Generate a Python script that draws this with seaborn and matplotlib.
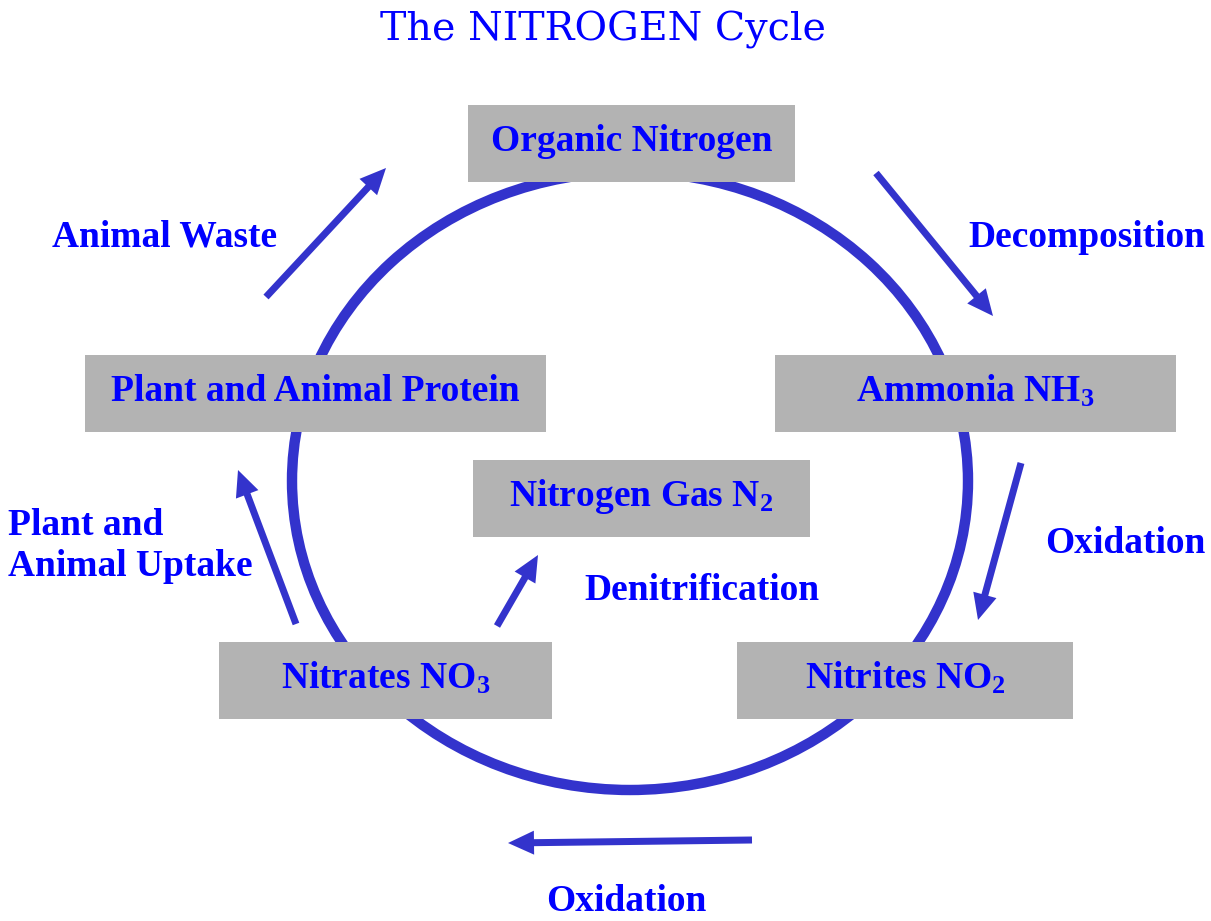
import numpy as np
import seaborn as sns
import matplotlib.pyplot as plt
from matplotlib.patches import Ellipse, Rectangle, FancyArrow

sns.set_theme(style="white")
plt.rcParams["font.family"] = ["Liberation Serif", "DejaVu Serif"]
plt.rcParams["mathtext.default"] = "regular"

TEXT_BLUE = "#0000ff"
LINE_BLUE = "#3333cc"
BOX_GREY = "#b3b3b3"

# boxes: label, (x0, y0, x1, y1) in pixels
box_labels = [
    "Organic Nitrogen",
    "Ammonia NH$_3$",
    "Plant and Animal Protein",
    "Nitrogen Gas N$_2$",
    "Nitrates NO$_3$",
    "Nitrites NO$_2$",
]
box_x0 = [468, 775, 85, 473, 219, 737]
box_x1 = [795, 1176, 546, 810, 552, 1073]
box_y0 = [105, 355, 355, 460, 642, 642]
box_y1 = [182, 432, 432, 537, 719, 719]

# process labels
step_labels = [
    "Animal Waste",
    "Decomposition",
    "Plant and\nAnimal Uptake",
    "Oxidation",
    "Denitrification",
    "Oxidation",
]
step_x = [52, 968, 8, 1045, 584, 546]
step_y = [237, 237, 546, 543, 590, 901]

# arrows: tail -> head
arrow_x0 = [266, 876, 1021, 752, 296, 497]
arrow_y0 = [297, 173, 463, 840, 624, 626]
arrow_x1 = [386, 993, 978, 508, 238, 538]
arrow_y1 = [168, 316, 620, 843, 470, 555]

W, H = 1211, 921
fig = plt.figure(figsize=(W / 100, H / 100), dpi=100)
ax = fig.add_axes([0, 0, 1, 1])
ax.set_xlim(0, W)
ax.set_ylim(H, 0)
ax.axis("off")

# the cycle ring
ax.add_patch(Ellipse((630, 481), 2 * 338, 2 * 309, fill=False,
                     edgecolor=LINE_BLUE, linewidth=7.5, zorder=1))

for lab, x0, x1, y0, y1 in zip(box_labels, box_x0, box_x1, box_y0, box_y1):
    ax.add_patch(Rectangle((x0, y0), x1 - x0, y1 - y0, facecolor=BOX_GREY,
                           edgecolor="none", zorder=2))
    ax.text((x0 + x1) / 2, (y0 + y1) / 2 - 2, lab, ha="center", va="center",
            fontsize=27, fontweight="bold", color=TEXT_BLUE, zorder=3)

for lab, x, y in zip(step_labels, step_x, step_y):
    ax.text(x, y, lab, ha="left", va="center", fontsize=27,
            fontweight="bold", color=TEXT_BLUE, linespacing=1.25)

for x0, y0, x1, y1 in zip(arrow_x0, arrow_y0, arrow_x1, arrow_y1):
    ax.add_patch(FancyArrow(x0, y0, x1 - x0, y1 - y0, width=7,
                            head_width=24, head_length=26,
                            length_includes_head=True, color=LINE_BLUE,
                            linewidth=0, zorder=2))

ax.text(W / 2 - 3, 30, "The NITROGEN Cycle", ha="center", va="center",
        fontsize=28.5, color=TEXT_BLUE, family=["DejaVu Serif"])

fig.savefig("out.png", dpi=100)
